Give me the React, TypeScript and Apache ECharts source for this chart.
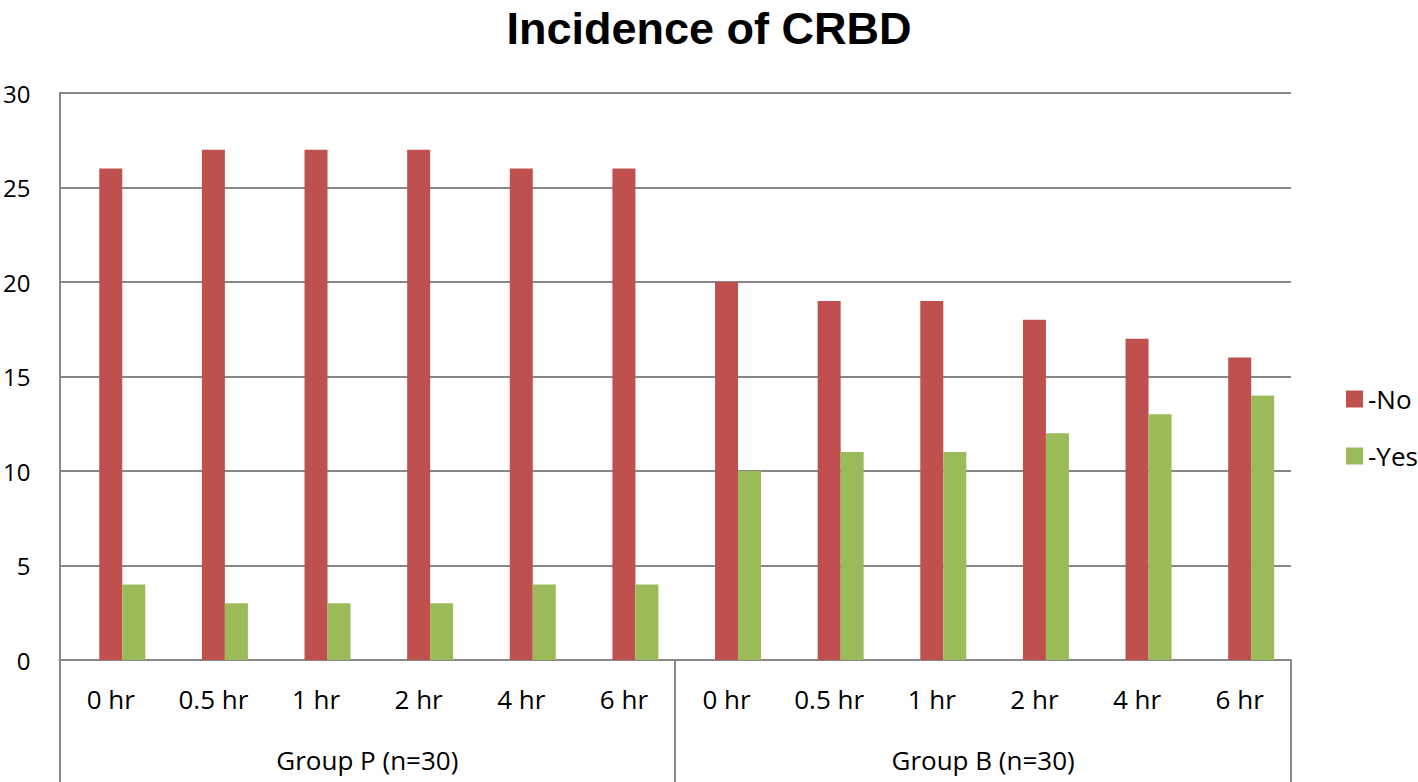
import React, { useEffect, useRef } from "react";
import * as echarts from "echarts";

const categories = ["0 hr", "0.5 hr", "1 hr", "2 hr", "4 hr", "6 hr", "0 hr", "0.5 hr", "1 hr", "2 hr", "4 hr", "6 hr"];
const groups = ["Group P (n=30)", "Group B (n=30)"];
const noValues = [26, 27, 27, 27, 26, 26, 20, 19, 19, 18, 17, 16];
const yesValues = [4, 3, 3, 3, 4, 4, 10, 11, 11, 12, 13, 14];
const yTicks = { min: 0, max: 30, interval: 5 };

const FONT = "'Open Sans', 'Liberation Sans', sans-serif";
const TITLE_FONT = "'Liberation Sans', Arial, sans-serif";
const GRID = "#878787";

export default function App() {
  const ref = useRef<HTMLDivElement>(null);
  useEffect(() => {
    const chart = echarts.init(ref.current!, null, { renderer: "svg" });
    chart.setOption({
      animation: false,
      backgroundColor: "#ffffff",
      textStyle: { fontFamily: FONT },
      title: {
        text: "Incidence of CRBD",
        left: "center",
        top: 0,
        padding: [6, 5, 5, 5],
        textStyle: { fontFamily: TITLE_FONT, fontSize: 45, fontWeight: "bold", color: "#000" },
      },
      legend: {
        data: ["-No", "-Yes"],
        orient: "vertical",
        left: 1341,
        top: 381,
        itemWidth: 17,
        itemHeight: 17,
        itemGap: 31,
        icon: "rect",
        textStyle: { fontFamily: FONT, fontSize: 26, color: "#000", padding: [0, 0, 0, 0] },
      },
      grid: { left: 59, right: 127, top: 93, bottom: 122, containLabel: false },
      xAxis: [
        {
          type: "category",
          data: categories,
          position: "bottom",
          axisLine: { show: true, lineStyle: { color: GRID, width: 2 } },
          axisTick: { show: false },
          axisLabel: { fontFamily: FONT, fontSize: 26, color: "#000", margin: 26, interval: 0 },
        },
        {
          type: "category",
          data: groups,
          position: "bottom",
          axisLine: { show: false },
          axisTick: { show: true, length: 122, lineStyle: { color: GRID, width: 2 } },
          axisLabel: { fontFamily: FONT, fontSize: 26, color: "#000", margin: 87, interval: 0 },
        },
      ],
      yAxis: {
        type: "value",
        min: yTicks.min,
        max: yTicks.max,
        interval: yTicks.interval,
        axisLine: { show: true, lineStyle: { color: GRID, width: 2 } },
        axisTick: { show: false },
        axisLabel: { fontFamily: FONT, fontSize: 24, color: "#000", margin: 29 },
        splitLine: { show: true, lineStyle: { color: GRID, width: 2 } },
      },
      series: [
        {
          name: "spacer",
          type: "bar",
          data: categories.map(() => null),
          barWidth: 23,
          barGap: "0%",
          silent: true,
          itemStyle: { color: "rgba(0,0,0,0)" },
        },
        {
          name: "-No",
          type: "bar",
          data: noValues,
          barWidth: 23,
          barGap: "0%",
          itemStyle: { color: "#C0504D" },
        },
        {
          name: "-Yes",
          type: "bar",
          data: yesValues,
          barWidth: 23,
          barGap: "0%",
          itemStyle: { color: "#9BBB59" },
        },
      ],
    });
    return () => chart.dispose();
  }, []);
  return <div ref={ref} style={{ width: 1418, height: 782, position: "absolute", left: 0, top: 0 }} />;
}
